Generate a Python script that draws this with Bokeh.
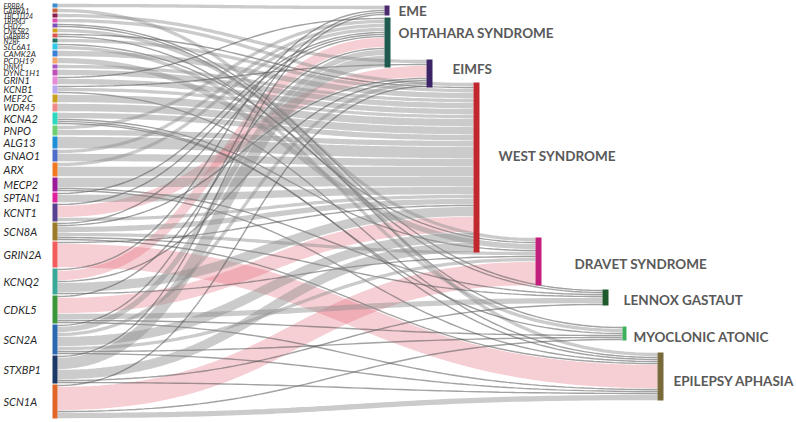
import numpy as np
from bokeh.plotting import figure
from bokeh.models import Range1d, ColumnDataSource
from bokeh.embed import file_html
from bokeh.resources import INLINE
from bokeh.core.properties import value

# ---------------- data ----------------
genes = ["ERBB4", "GABRA1", "TBC1D24", "TRPM3", "CHD2", "CNKSR2", "GABRB3", "N2RF",
         "SLC6A1", "CAMK2A", "PCDH19", "DNM1", "DYNC1H1", "GRIN1", "KCNB1", "MEF2C",
         "WDR45", "KCNA2", "PNPO", "ALG13", "GNAO1", "ARX", "MECP2", "SPTAN1",
         "KCNT1", "SCN8A", "GRIN2A", "KCNQ2", "CDKL5", "SCN2A", "STXBP1", "SCN1A"]

syndromes = ["EME", "OHTAHARA SYNDROME", "EIMFS", "WEST SYNDROME", "DRAVET SYNDROME",
             "LENNOX GASTAUT", "MYOCLONIC ATONIC", "EPILEPSY APHASIA"]

link_source = ["ERBB4", "GABRA1", "TBC1D24", "TRPM3", "CHD2", "CHD2", "CNKSR2",
               "GABRB3", "GABRB3", "N2RF", "SLC6A1", "SLC6A1", "CAMK2A", "PCDH19",
               "DNM1", "DYNC1H1", "GRIN1", "GRIN1", "KCNB1", "KCNB1", "KCNB1",
               "MEF2C", "WDR45", "KCNA2", "KCNA2", "KCNA2", "KCNA2", "PNPO", "PNPO",
               "ALG13", "GNAO1", "GNAO1", "ARX", "ARX", "MECP2", "MECP2", "MECP2",
               "SPTAN1", "SPTAN1", "KCNT1", "KCNT1", "KCNT1",
               "SCN8A", "SCN8A", "SCN8A", "SCN8A", "SCN8A", "SCN8A",
               "GRIN2A", "GRIN2A",
               "KCNQ2", "KCNQ2", "KCNQ2", "KCNQ2", "KCNQ2",
               "CDKL5", "CDKL5", "CDKL5", "CDKL5", "CDKL5",
               "SCN2A", "SCN2A", "SCN2A", "SCN2A", "SCN2A", "SCN2A", "SCN2A",
               "STXBP1", "STXBP1", "STXBP1", "STXBP1", "STXBP1",
               "SCN1A", "SCN1A", "SCN1A", "SCN1A"]

link_target = ["EME", "DRAVET SYNDROME", "EIMFS", "WEST SYNDROME", "LENNOX GASTAUT",
               "MYOCLONIC ATONIC", "EPILEPSY APHASIA",
               "WEST SYNDROME", "DRAVET SYNDROME", "WEST SYNDROME", "LENNOX GASTAUT",
               "MYOCLONIC ATONIC", "WEST SYNDROME", "DRAVET SYNDROME",
               "WEST SYNDROME", "WEST SYNDROME", "OHTAHARA SYNDROME", "WEST SYNDROME",
               "EIMFS", "WEST SYNDROME", "EPILEPSY APHASIA",
               "WEST SYNDROME", "WEST SYNDROME", "WEST SYNDROME", "DRAVET SYNDROME",
               "MYOCLONIC ATONIC", "EPILEPSY APHASIA", "OHTAHARA SYNDROME", "WEST SYNDROME",
               "WEST SYNDROME", "OHTAHARA SYNDROME", "WEST SYNDROME", "OHTAHARA SYNDROME",
               "WEST SYNDROME", "WEST SYNDROME", "LENNOX GASTAUT", "EPILEPSY APHASIA",
               "OHTAHARA SYNDROME", "WEST SYNDROME", "OHTAHARA SYNDROME", "EIMFS",
               "WEST SYNDROME",
               "OHTAHARA SYNDROME", "EIMFS", "WEST SYNDROME", "DRAVET SYNDROME",
               "LENNOX GASTAUT", "EPILEPSY APHASIA",
               "WEST SYNDROME", "EPILEPSY APHASIA",
               "EME", "OHTAHARA SYNDROME", "EIMFS", "WEST SYNDROME", "DRAVET SYNDROME",
               "OHTAHARA SYNDROME", "WEST SYNDROME", "LENNOX GASTAUT",
               "MYOCLONIC ATONIC", "EPILEPSY APHASIA",
               "EME", "OHTAHARA SYNDROME", "EIMFS", "WEST SYNDROME", "DRAVET SYNDROME",
               "MYOCLONIC ATONIC", "EPILEPSY APHASIA",
               "EME", "OHTAHARA SYNDROME", "WEST SYNDROME", "LENNOX GASTAUT",
               "EPILEPSY APHASIA",
               "EIMFS", "DRAVET SYNDROME", "MYOCLONIC ATONIC", "EPILEPSY APHASIA"]

link_value = [2, 2, 2, 2, 1, 1, 2,
              1, 1, 2, 1, 2, 3, 3,
              2, 3, 1, 3, 1, 2, 1,
              4, 4, 3, 1, 1, 1, 2, 3,
              6, 2, 4, 2, 5, 5, 1, 1,
              1, 4, 1, 6, 2,
              1, 1, 3, 2, 1, 1,
              1, 12,
              1, 5, 1, 5, 1,
              1, 8, 3, 1, 1,
              1, 3, 2, 5, 2, 1, 1,
              1, 6, 5, 1, 1,
              1, 12, 1, 3]

# primary (highlighted) associations
primary_pairs = [("KCNT1", "EIMFS"), ("GRIN2A", "EPILEPSY APHASIA"),
                 ("KCNQ2", "OHTAHARA SYNDROME"), ("CDKL5", "WEST SYNDROME"),
                 ("SCN1A", "DRAVET SYNDROME")]
link_primary = [(s, t) in primary_pairs for s, t in zip(link_source, link_target)]

# ---------------- layout & style ----------------
UNIT = 2.0          # px per value unit
GENE_X0, GENE_W = 52, 5
GENE_TOP, GENE_GAP = 3, 1

TARGET_LAYOUT = {   # x0, top, width, label_x, label_y
    "EME": (384, 5, 5, 398, 10),
    "OHTAHARA SYNDROME": (384, 17, 6, 398, 32),
    "EIMFS": (426, 59, 6, 452, 68),
    "WEST SYNDROME": (473, 82, 6, 498, 155),
    "DRAVET SYNDROME": (535, 237, 6, 574, 263),
    "LENNOX GASTAUT": (602, 289, 6, 623, 299),
    "MYOCLONIC ATONIC": (622, 326, 4, 633, 336),
    "EPILEPSY APHASIA": (657, 352, 6, 673, 380),
}

GENE_COLORS = {
    "ERBB4": "#3a8ed0", "GABRA1": "#c8603a", "TBC1D24": "#8a1f4f", "TRPM3": "#d94fb0",
    "CHD2": "#7a52b5", "CNKSR2": "#d2a21e", "GABRB3": "#d9534f", "N2RF": "#1f7065",
    "SLC6A1": "#2fc8e8", "CAMK2A": "#3a7fd8", "PCDH19": "#f5a46a", "DNM1": "#a855c8",
    "DYNC1H1": "#c050b8", "GRIN1": "#e88ad8", "KCNB1": "#b8a8f0", "MEF2C": "#c8a21e",
    "WDR45": "#f08a8a", "KCNA2": "#2ed8c0", "PNPO": "#6cd070", "ALG13": "#1f90d8",
    "GNAO1": "#4f6cc8", "ARX": "#f07820", "MECP2": "#9a1a9a", "SPTAN1": "#e0209a",
    "KCNT1": "#5a4090", "SCN8A": "#9c7a28", "GRIN2A": "#f25c5c", "KCNQ2": "#3aa898",
    "CDKL5": "#3a963a", "SCN2A": "#2a68b0", "STXBP1": "#1c3866", "SCN1A": "#e0662a",
}
TARGET_COLORS = {
    "EME": "#4b2a6e", "OHTAHARA SYNDROME": "#1e5a4e", "EIMFS": "#3d2466",
    "WEST SYNDROME": "#c0282e", "DRAVET SYNDROME": "#c21f7c", "LENNOX GASTAUT": "#1f5a2c",
    "MYOCLONIC ATONIC": "#3cb05a", "EPILEPSY APHASIA": "#786a3a",
}

PW, PH = 796, 422

# ---------------- compute sankey layout ----------------
gene_tot = {g: 0 for g in genes}
targ_tot = {t: 0 for t in syndromes}
for s, t, v in zip(link_source, link_target, link_value):
    gene_tot[s] += v
    targ_tot[t] += v

gene_y0 = {}
y = GENE_TOP
for g in genes:
    gene_y0[g] = y
    y += gene_tot[g] * UNIT + GENE_GAP

gene_order = {g: i for i, g in enumerate(genes)}
n = len(link_value)
src_off = [0.0] * n
tgt_off = [0.0] * n
for g in genes:
    idx = [i for i in range(n) if link_source[i] == g]
    idx.sort(key=lambda i: TARGET_LAYOUT[link_target[i]][1])
    off = gene_y0[g]
    for i in idx:
        src_off[i] = off
        off += link_value[i] * UNIT
for t in syndromes:
    idx = [i for i in range(n) if link_target[i] == t]
    idx.sort(key=lambda i: gene_order[link_source[i]])
    off = TARGET_LAYOUT[t][1]
    for i in idx:
        tgt_off[i] = off
        off += link_value[i] * UNIT

tt = np.linspace(0, 1, 80)
groups = {"pink": dict(xs=[], ys=[], w=[], c=[], a=[]),
          "grey": dict(xs=[], ys=[], w=[], c=[], a=[])}
for i in range(n):
    v = link_value[i]
    x0 = GENE_X0 + GENE_W
    x1 = TARGET_LAYOUT[link_target[i]][0]
    y0 = src_off[i] + v * UNIT / 2
    y1 = tgt_off[i] + v * UNIT / 2
    xm = (x0 + x1) / 2
    bx = (1 - tt) ** 3 * x0 + 3 * (1 - tt) ** 2 * tt * xm + 3 * (1 - tt) * tt ** 2 * xm + tt ** 3 * x1
    by = (1 - tt) ** 3 * y0 + 3 * (1 - tt) ** 2 * tt * y0 + 3 * (1 - tt) * tt ** 2 * y1 + tt ** 3 * y1
    width = max(v * UNIT - 0.7, 1.4)
    if link_primary[i]:
        grp = groups["pink"]; col, al = "#e06070", 0.30
    elif v <= 1:
        grp = groups["grey"]; col, al = "#555555", 0.55
    else:
        grp = groups["grey"]; col, al = "#8c8c8c", 0.45
    grp["xs"].append(list(bx)); grp["ys"].append(list(by))
    grp["w"].append(width); grp["c"].append(col); grp["a"].append(al)

# ---------------- figure ----------------
p = figure(width=PW, height=PH, x_range=Range1d(0, PW), y_range=Range1d(PH, 0),
           output_backend="svg", toolbar_location=None, x_axis_type=None, y_axis_type=None,
           min_border=0, min_border_left=0, min_border_right=0, min_border_top=0,
           min_border_bottom=0)
p.grid.visible = False
p.outline_line_color = None
p.background_fill_color = "white"

for key in ["pink", "grey"]:
    g = groups[key]
    src = ColumnDataSource(dict(xs=g["xs"], ys=g["ys"], w=g["w"], c=g["c"], a=g["a"]))
    p.multi_line(xs="xs", ys="ys", line_width="w", line_color="c", line_alpha="a",
                 line_cap="butt", source=src)

# gene nodes
gsrc = ColumnDataSource(dict(
    left=[GENE_X0] * len(genes), right=[GENE_X0 + GENE_W] * len(genes),
    top=[gene_y0[g] for g in genes],
    bottom=[gene_y0[g] + gene_tot[g] * UNIT for g in genes],
    color=[GENE_COLORS[g] for g in genes]))
p.quad(left="left", right="right", top="top", bottom="bottom", fill_color="color",
       line_color=None, source=gsrc)

# target nodes
tsrc = ColumnDataSource(dict(
    left=[TARGET_LAYOUT[t][0] for t in syndromes],
    right=[TARGET_LAYOUT[t][0] + TARGET_LAYOUT[t][2] for t in syndromes],
    top=[TARGET_LAYOUT[t][1] for t in syndromes],
    bottom=[TARGET_LAYOUT[t][1] + targ_tot[t] * UNIT for t in syndromes],
    color=[TARGET_COLORS[t] for t in syndromes]))
p.quad(left="left", right="right", top="top", bottom="bottom", fill_color="color",
       line_color=None, source=tsrc)

# gene labels
def fsize(h):
    return "%.1fpx" % min(11.0, max(6.8, 4.6 + 0.6 * h))

lsrc = ColumnDataSource(dict(
    x=[3] * len(genes),
    y=[gene_y0[g] + gene_tot[g] * UNIT / 2 for g in genes],
    text=genes,
    fs=[fsize(gene_tot[g] * UNIT) for g in genes]))
p.text(x="x", y="y", text="text", text_font=value("Lato"), text_font_style="italic",
       text_font_size="fs", text_baseline="middle", text_align="left",
       text_color="#2a2a2a", source=lsrc)

# syndrome labels
ssrc = ColumnDataSource(dict(
    x=[TARGET_LAYOUT[t][3] for t in syndromes],
    y=[TARGET_LAYOUT[t][4] for t in syndromes],
    text=syndromes))
p.text(x="x", y="y", text="text", text_font=value("Lato"), text_font_style="bold",
       text_font_size="13.5px", text_baseline="middle", text_align="left",
       text_color="#595959", source=ssrc)

open("out.html", "w").write(file_html(p, INLINE))
